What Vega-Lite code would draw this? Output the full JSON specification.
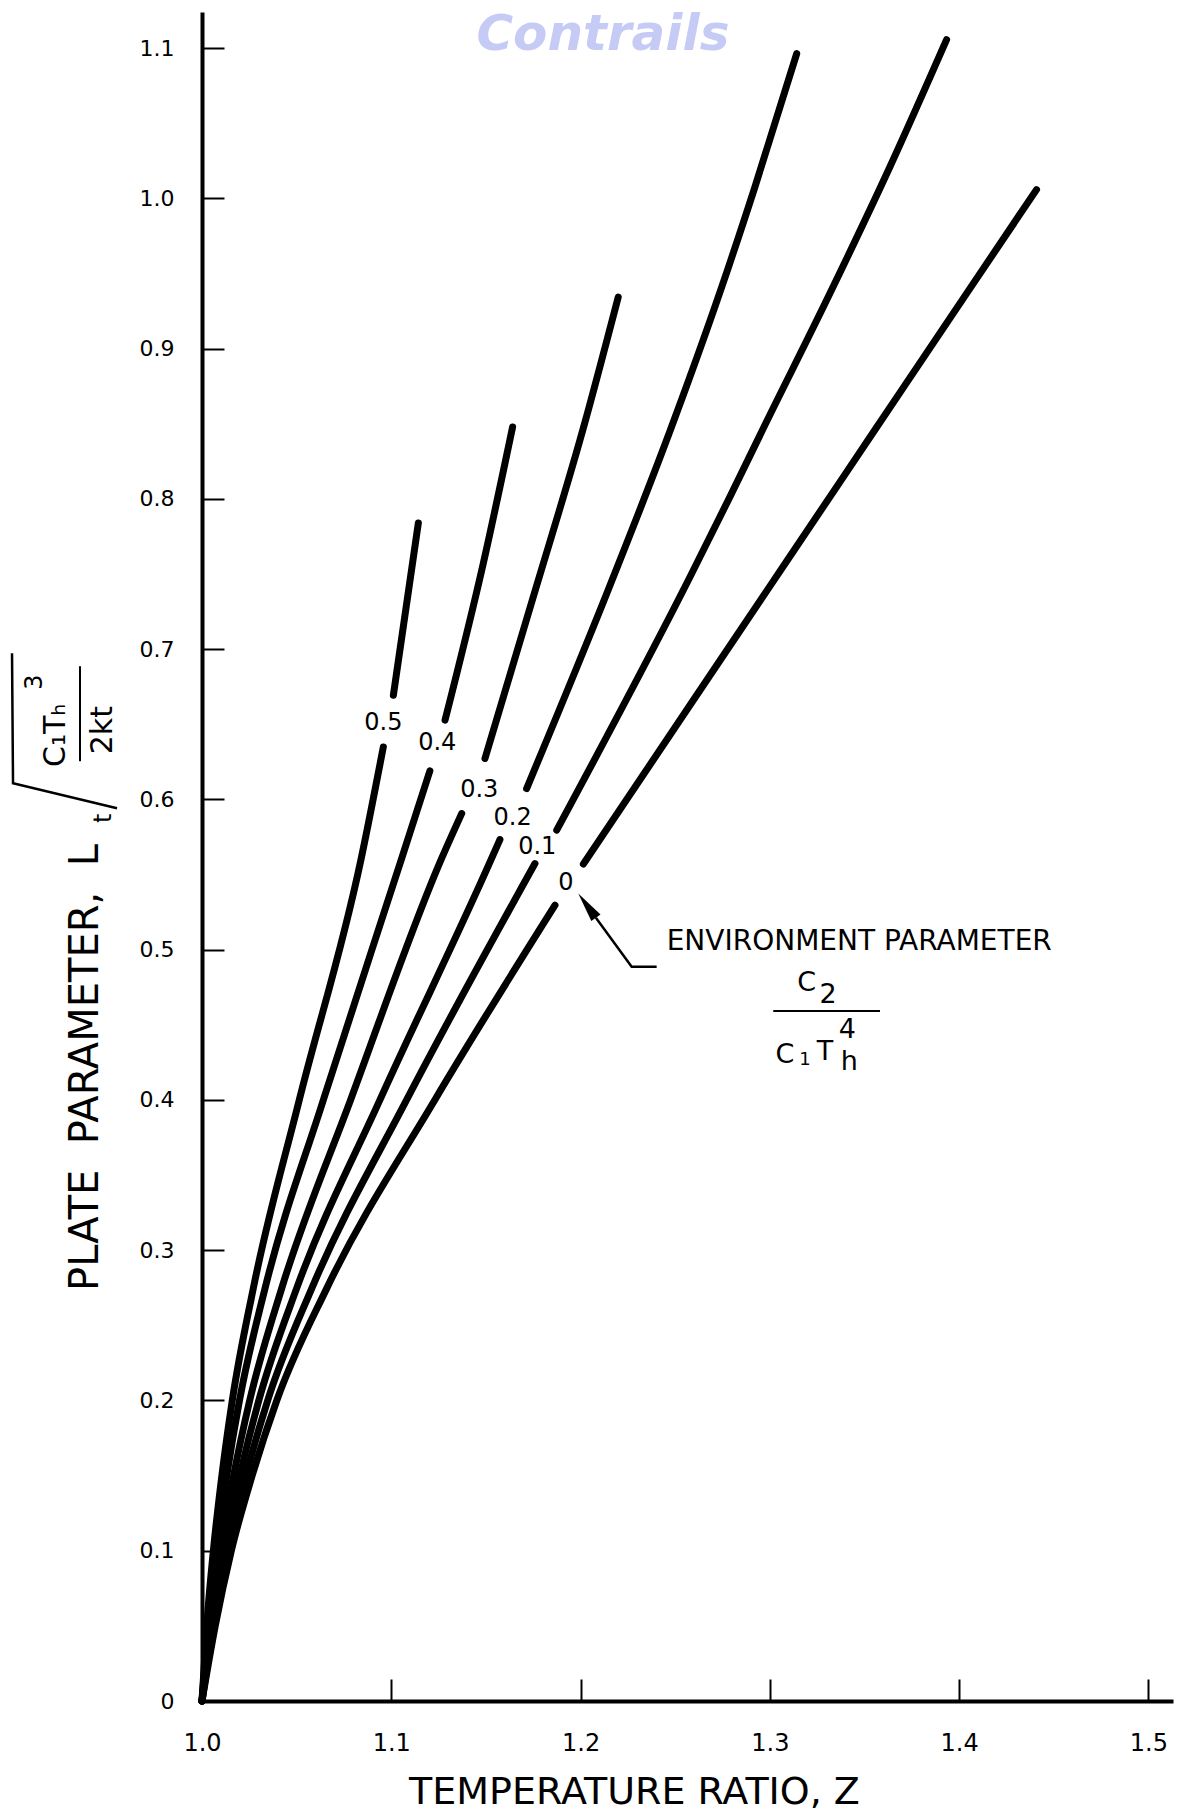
{
  "$schema": "https://vega.github.io/schema/vega-lite/v6.json",
  "width": 971,
  "height": 1689,
  "autosize": "none",
  "padding": {"left": 202, "top": 12, "right": 7, "bottom": 113},
  "background": "white",
  "config": {"view": {"stroke": null}, "font": "DejaVu Sans"},
  "datasets": {
    "curves": [
      {"p": "0.5a", "z": 1.0, "v": 0.0}, {"p": "0.5a", "z": 1.0025, "v": 0.05}, {"p": "0.5a", "z": 1.006, "v": 0.1}, {"p": "0.5a", "z": 1.0105, "v": 0.15}, {"p": "0.5a", "z": 1.016, "v": 0.2}, {"p": "0.5a", "z": 1.0271, "v": 0.2746}, {"p": "0.5a", "z": 1.0514, "v": 0.4}, {"p": "0.5a", "z": 1.084, "v": 0.56}, {"p": "0.5a", "z": 1.0958, "v": 0.6349},
      {"p": "0.5b", "z": 1.1011, "v": 0.6693}, {"p": "0.5b", "z": 1.1143, "v": 0.784},
      {"p": "0.4a", "z": 1.0, "v": 0.0}, {"p": "0.4a", "z": 1.0032, "v": 0.05}, {"p": "0.4a", "z": 1.0075, "v": 0.1}, {"p": "0.4a", "z": 1.0131, "v": 0.15}, {"p": "0.4a", "z": 1.0198, "v": 0.2}, {"p": "0.4a", "z": 1.0333, "v": 0.2746}, {"p": "0.4a", "z": 1.0641, "v": 0.4}, {"p": "0.4a", "z": 1.1055, "v": 0.5607}, {"p": "0.4a", "z": 1.1204, "v": 0.619},
      {"p": "0.4b", "z": 1.1284, "v": 0.6527}, {"p": "0.4b", "z": 1.1486, "v": 0.757}, {"p": "0.4b", "z": 1.1641, "v": 0.8478},
      {"p": "0.3a", "z": 1.0, "v": 0.0}, {"p": "0.3a", "z": 1.0043, "v": 0.05}, {"p": "0.3a", "z": 1.0097, "v": 0.1}, {"p": "0.3a", "z": 1.0167, "v": 0.15}, {"p": "0.3a", "z": 1.0252, "v": 0.2}, {"p": "0.3a", "z": 1.0421, "v": 0.2746}, {"p": "0.3a", "z": 1.0785, "v": 0.4}, {"p": "0.3a", "z": 1.1266, "v": 0.5607}, {"p": "0.3a", "z": 1.1372, "v": 0.5906},
      {"p": "0.3b", "z": 1.1495, "v": 0.6272}, {"p": "0.3b", "z": 1.175, "v": 0.7347}, {"p": "0.3b", "z": 1.2014, "v": 0.8468}, {"p": "0.3b", "z": 1.2199, "v": 0.9343},
      {"p": "0.2a", "z": 1.0, "v": 0.0}, {"p": "0.2a", "z": 1.0052, "v": 0.05}, {"p": "0.2a", "z": 1.0116, "v": 0.1}, {"p": "0.2a", "z": 1.02, "v": 0.15}, {"p": "0.2a", "z": 1.03, "v": 0.2}, {"p": "0.2a", "z": 1.05, "v": 0.2746}, {"p": "0.2a", "z": 1.094, "v": 0.4}, {"p": "0.2a", "z": 1.153, "v": 0.5607}, {"p": "0.2a", "z": 1.1574, "v": 0.5733},
      {"p": "0.2b", "z": 1.1715, "v": 0.6072}, {"p": "0.2b", "z": 1.2131, "v": 0.7347}, {"p": "0.2b", "z": 1.2474, "v": 0.8456}, {"p": "0.2b", "z": 1.2746, "v": 0.941}, {"p": "0.2b", "z": 1.2921, "v": 1.0075}, {"p": "0.2b", "z": 1.3142, "v": 1.0963},
      {"p": "0.1a", "z": 1.0, "v": 0.0}, {"p": "0.1a", "z": 1.0061, "v": 0.05}, {"p": "0.1a", "z": 1.0136, "v": 0.1}, {"p": "0.1a", "z": 1.0232, "v": 0.15}, {"p": "0.1a", "z": 1.0347, "v": 0.2}, {"p": "0.1a", "z": 1.058, "v": 0.2746}, {"p": "0.1a", "z": 1.1081, "v": 0.4}, {"p": "0.1a", "z": 1.1759, "v": 0.5573},
      {"p": "0.1b", "z": 1.1874, "v": 0.5795}, {"p": "0.1b", "z": 1.2578, "v": 0.748}, {"p": "0.1b", "z": 1.2789, "v": 0.8013}, {"p": "0.1b", "z": 1.2965, "v": 0.8468}, {"p": "0.1b", "z": 1.3317, "v": 0.9366}, {"p": "0.1b", "z": 1.3634, "v": 1.0208}, {"p": "0.1b", "z": 1.3934, "v": 1.1056},
      {"p": "0a", "z": 1.0, "v": 0.0}, {"p": "0a", "z": 1.007, "v": 0.05}, {"p": "0a", "z": 1.0155, "v": 0.1}, {"p": "0a", "z": 1.0265, "v": 0.15}, {"p": "0a", "z": 1.0395, "v": 0.2}, {"p": "0a", "z": 1.0659, "v": 0.2746}, {"p": "0a", "z": 1.123, "v": 0.4}, {"p": "0a", "z": 1.1865, "v": 0.5296},
      {"p": "0b", "z": 1.2015, "v": 0.557}, {"p": "0b", "z": 1.2584, "v": 0.6638}, {"p": "0b", "z": 1.282, "v": 0.7081}, {"p": "0b", "z": 1.3104, "v": 0.7613}, {"p": "0b", "z": 1.356, "v": 0.8468}, {"p": "0b", "z": 1.4039, "v": 0.9366}, {"p": "0b", "z": 1.4409, "v": 1.0058}
    ],
    "labels": [
      {"t": "0.5", "z": 1.0958, "v": 0.651},
      {"t": "0.4", "z": 1.1243, "v": 0.6376},
      {"t": "0.3", "z": 1.1465, "v": 0.6061},
      {"t": "0.2", "z": 1.1641, "v": 0.5873},
      {"t": "0.1", "z": 1.1771, "v": 0.5684},
      {"t": "0", "z": 1.1923, "v": 0.5445}
    ],
    "watermark": [{"t": "Contrails", "z": 1.2118, "v": 1.0985}],
    "envtext": [{"t": "ENVIRONMENT  PARAMETER", "z": 1.2455, "v": 0.5052}],
    "frac": [
      {"t": "C", "z": 1.3194, "v": 0.4775},
      {"t": "2", "z": 1.3308, "v": 0.4697},
      {"t": "C", "z": 1.308, "v": 0.4299},
      {"t": "T", "z": 1.3291, "v": 0.4321},
      {"t": "h", "z": 1.342, "v": 0.4252},
      {"t": "4", "z": 1.3409, "v": 0.4465}
    ],
    "fracsmall": [{"t": "1", "z": 1.3186, "v": 0.4265}],
    "bar": [{"z": 1.3018, "z2": 1.3582, "v": 0.4591}],
    "leader": [
      {"z": 1.2081, "v": 0.5213},
      {"z": 1.227, "v": 0.4886},
      {"z": 1.2402, "v": 0.4886}
    ],
    "arrow": [{"z": 1.1988, "v": 0.5374}],
    "ytitlebig": [
      {"t": "C₁Tₕ", "z": 0.92287, "v": 0.64271},
      {"t": "2kt", "z": 0.9477, "v": 0.64604}
    ],
    "ytitlesmall": [
      {"t": "t", "z": 0.94823, "v": 0.58749},
      {"t": "3", "z": 0.91178, "v": 0.67798}
    ],
    "ytitlebar": [{"z": 0.93555, "v": 0.62542, "v2": 0.68862}],
    "radical": [
      {"o": 1, "z": 0.9551, "v": 0.59414},
      {"o": 2, "z": 0.90016, "v": 0.61078},
      {"o": 3, "z": 0.89963, "v": 0.69727}
    ]
  },
  "encoding": {
    "x": {
      "field": "z", "type": "quantitative",
      "scale": {"domain": [1.0, 1.513], "nice": false, "zero": false},
      "axis": {
        "values": [1.0, 1.1, 1.2, 1.3, 1.4, 1.5],
        "format": ".1f",
        "grid": false,
        "domainColor": "black", "domainWidth": 4,
        "tickColor": "black", "tickWidth": 2, "tickSize": -22,
        "labelPadding": 52, "labelFontSize": 24, "labelColor": "black", "labelFont": "DejaVu Sans",
        "labelBaseline": "top", "labelFlush": false, "labelOverlap": false,
        "title": "TEMPERATURE RATIO, Z",
        "titleFont": "DejaVu Sans", "titleFontSize": 38, "titleFontWeight": "normal", "titleColor": "black",
        "titleX": 432, "titleY": 91, "titleBaseline": "middle", "titleAlign": "center"
      }
    },
    "y": {
      "field": "v", "type": "quantitative",
      "scale": {"domain": [0, 1.124], "nice": false},
      "axis": {
        "values": [0, 0.1, 0.2, 0.3, 0.4, 0.5, 0.6, 0.7, 0.8, 0.9, 1.0, 1.1],
        "labelExpr": "datum.value == 0 ? '0' : format(datum.value, '.1f')",
        "grid": false,
        "domainColor": "black", "domainWidth": 4,
        "tickColor": "black", "tickWidth": 2, "tickSize": -22,
        "labelPadding": 50, "labelFontSize": 22, "labelColor": "black", "labelFont": "DejaVu Sans",
        "labelFlush": false, "labelOverlap": false,
        "title": "PLATE\u00a0 PARAMETER,\u00a0 L",
        "titleFont": "DejaVu Sans", "titleFontSize": 40, "titleFontWeight": "normal", "titleColor": "black",
        "titleX": -117, "titleY": 1055, "titleBaseline": "middle", "titleAlign": "center", "titleAngle": -90
      }
    }
  },
  "layer": [
    {
      "data": {"name": "curves"},
      "mark": {"type": "line", "color": "black", "strokeWidth": 7, "strokeCap": "round", "interpolate": "monotone"},
      "encoding": {"detail": {"field": "p", "type": "nominal"}, "order": {"field": "v", "type": "quantitative"}}
    },
    {
      "data": {"name": "labels"},
      "mark": {"type": "text", "fontSize": 24, "color": "black", "align": "center", "baseline": "middle"},
      "encoding": {"text": {"field": "t", "type": "nominal"}}
    },
    {
      "data": {"name": "watermark"},
      "mark": {"type": "text", "fontSize": 50, "fontStyle": "italic", "fontWeight": "bold", "color": "#c6cbf6", "align": "center", "baseline": "alphabetic"},
      "encoding": {"text": {"field": "t", "type": "nominal"}}
    },
    {
      "data": {"name": "envtext"},
      "mark": {"type": "text", "fontSize": 28, "color": "black", "align": "left", "baseline": "middle"},
      "encoding": {"text": {"field": "t", "type": "nominal"}}
    },
    {
      "data": {"name": "frac"},
      "mark": {"type": "text", "fontSize": 27, "color": "black", "align": "center", "baseline": "middle"},
      "encoding": {"text": {"field": "t", "type": "nominal"}}
    },
    {
      "data": {"name": "fracsmall"},
      "mark": {"type": "text", "fontSize": 18, "color": "black", "align": "center", "baseline": "middle"},
      "encoding": {"text": {"field": "t", "type": "nominal"}}
    },
    {
      "data": {"name": "bar"},
      "mark": {"type": "rule", "color": "black", "strokeWidth": 2},
      "encoding": {"x2": {"field": "z2"}}
    },
    {
      "data": {"name": "leader"},
      "mark": {"type": "line", "color": "black", "strokeWidth": 2.5},
      "encoding": {"order": {"field": "z", "type": "quantitative"}}
    },
    {
      "data": {"name": "arrow"},
      "mark": {"type": "point", "shape": "M0,0L0.38,2L-0.38,2Z", "size": 900, "filled": true, "color": "black", "opacity": 1, "angle": -36},
      "encoding": {}
    },
    {
      "data": {"name": "ytitlebig"},
      "mark": {"type": "text", "fontSize": 30, "color": "black", "align": "center", "baseline": "middle", "angle": 270},
      "encoding": {"text": {"field": "t", "type": "nominal"}}
    },
    {
      "data": {"name": "ytitlesmall"},
      "mark": {"type": "text", "fontSize": 24, "color": "black", "align": "center", "baseline": "middle", "angle": 270},
      "encoding": {"text": {"field": "t", "type": "nominal"}}
    },
    {
      "data": {"name": "ytitlebar"},
      "mark": {"type": "rule", "color": "black", "strokeWidth": 2},
      "encoding": {"y2": {"field": "v2"}}
    },
    {
      "data": {"name": "radical"},
      "mark": {"type": "line", "color": "black", "strokeWidth": 2.5, "strokeJoin": "miter"},
      "encoding": {"order": {"field": "o", "type": "quantitative"}}
    }
  ]
}
